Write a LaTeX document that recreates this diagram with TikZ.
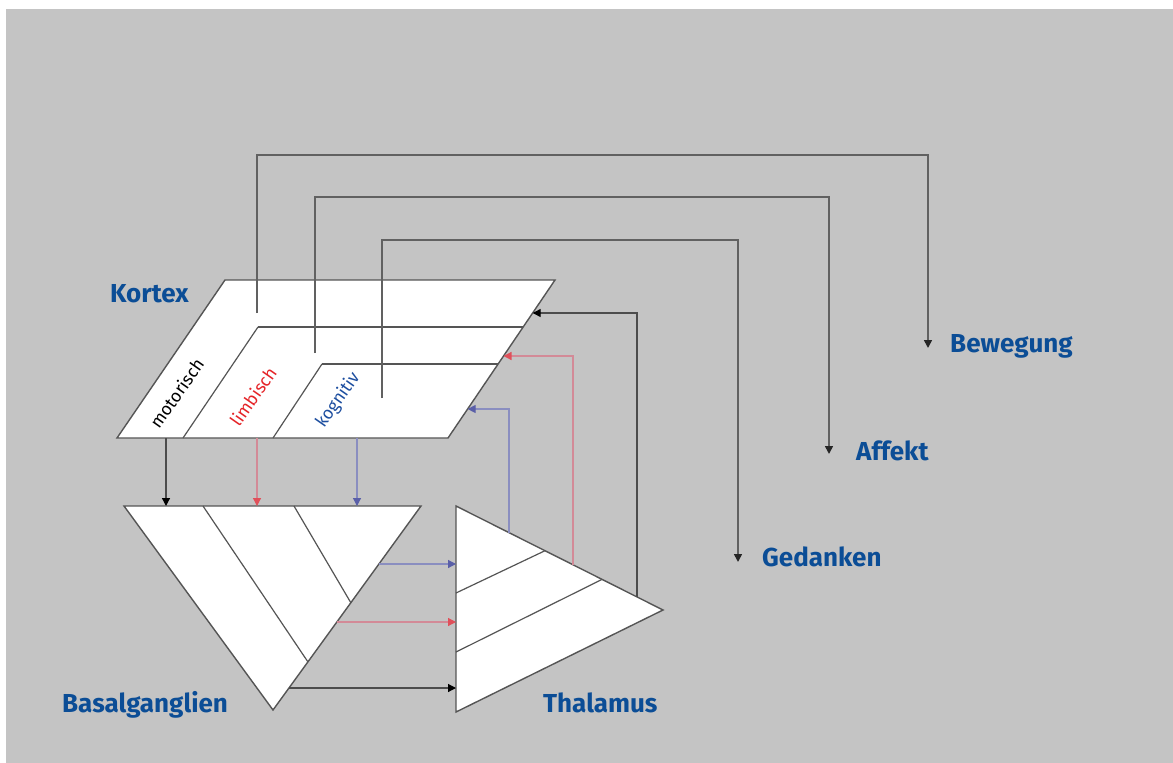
\documentclass[tikz,border=0pt]{standalone}
\usepackage{fontspec}
\setmainfont{Fira Sans}
\newfontfamily\labfont{Fira Sans}
\usetikzlibrary{arrows.meta}
\definecolor{bg}{HTML}{C4C4C4}
\definecolor{labblue}{HTML}{0B4D96}
\definecolor{txtred}{HTML}{E52428}
\definecolor{txtblue}{HTML}{1E4FA0}
\definecolor{edge}{HTML}{555555}
\definecolor{conred}{HTML}{D38A97}
\definecolor{conblue}{HTML}{8A8EC0}
\definecolor{tipred}{HTML}{E0505A}
\definecolor{tipblue}{HTML}{5A5FA8}
\tikzset{
  shapebox/.style={fill=white, draw=edge, line width=1.4pt, line join=miter},
  inner/.style={draw=edge, line width=1.2pt},
  topcon/.style={draw=black!62, line width=1.6pt, -{Triangle[length=8pt,width=8pt,color=black!85]}},
  blackcon/.style={draw=black!70, line width=1.2pt, -{Triangle[length=8pt,width=8pt,color=black]}},
  redcon/.style={draw=conred, line width=1.2pt, -{Triangle[length=8pt,width=8pt,color=tipred]}},
  bluecon/.style={draw=conblue, line width=1.2pt, -{Triangle[length=8pt,width=8pt,color=tipblue]}},
  biglabel/.style={font=\labfont\bfseries\fontsize{26}{30}\selectfont, text=labblue, inner sep=0pt, anchor=base west},
  rotlabel/.style={font=\labfont\fontsize{17.5}{20}\selectfont, inner sep=0pt, anchor=base west, rotate=55}
}
\begin{document}
\begin{tikzpicture}[x=1pt,y=-1pt]
\useasboundingbox (0,0) rectangle (1173,763);
\fill[white] (0,0) rectangle (1173,763);
\fill[bg] (6,9) rectangle (1173,763);

% Kortex
\coordinate (K1) at (225,280);
\coordinate (K2) at (555,280);
\coordinate (K3) at (448,438);
\coordinate (K4) at (117,438);
\filldraw[shapebox] (K1) -- (K2) -- (K3) -- (K4) -- cycle;
\draw[inner] (258,327) -- (523.2,327);
\draw[inner] (258,327) -- (183,438);
\draw[inner] (322,364) -- (498.1,364);
\draw[inner] (322,364) -- (273,438);

% Basalganglien
\coordinate (B1) at (124,506);
\coordinate (B2) at (421,506);
\coordinate (B3) at (273,710);
\filldraw[shapebox] (B1) -- (B2) -- (B3) -- cycle;
\draw[inner] (203,506) -- (308,662);
\draw[inner] (294,506) -- (351,603);

% Thalamus
\coordinate (T1) at (456,506);
\coordinate (T2) at (663,610);
\coordinate (T3) at (456,712);
\filldraw[shapebox] (T1) -- (T2) -- (T3) -- cycle;
\draw[inner] (456,593) -- (545,550.7);
\draw[inner] (456,652) -- (602,579.4);

% Labels
\node[biglabel] (kortex) at (110,302) {Kortex};
\node[biglabel] (basal) at (62,712) {Basalganglien};
\node[biglabel] (thal) at (543,712) {Thalamus};
\node[biglabel] (bew) at (950,352) {Bewegung};
\node[biglabel] (aff) at (856,460) {Affekt};
\node[biglabel] (ged) at (762,566) {Gedanken};
\node[rotlabel, text=black] (mot) at (159,430) {motorisch};
\node[rotlabel, text=txtred] (lim) at (239,428) {limbisch};
\node[rotlabel, text=txtblue] (kog) at (324,429) {kognitiv};

% output coordinates
\coordinate (kmot) at (257,313);
\coordinate (klim) at (315,353);
\coordinate (kkog) at (382,398);
\coordinate (bewtip) at (928,348);
\coordinate (afftip) at (829,454);
\coordinate (gedtip) at (738,562);

\draw[topcon] (kmot) -- (257,155) -- (928,155) -- (bewtip);
\draw[topcon] (klim) -- (315,197) -- (829,197) -- (afftip);
\draw[topcon] (kkog) -- (382,240) -- (738,240) -- (gedtip);

% Kortex -> Basalganglien
\draw[blackcon] (166,438) -- (166,506);
\draw[redcon] (257,438) -- (257,506);
\draw[bluecon] (357,438) -- (357,506);

% Basalganglien -> Thalamus
\draw[bluecon] (379,564) -- (456,564);
\draw[redcon] (336.8,622) -- (456,622);
\draw[blackcon] (289,688) -- (456,688);

% Thalamus -> Kortex
\draw[bluecon] (509,532.6) -- (509,409) -- (467.6,409);
\draw[redcon] (573,564.8) -- (573,356) -- (503.5,356);
\draw[blackcon] (637,596.9) -- (637,313) -- (532.7,313);
\end{tikzpicture}
\end{document}
